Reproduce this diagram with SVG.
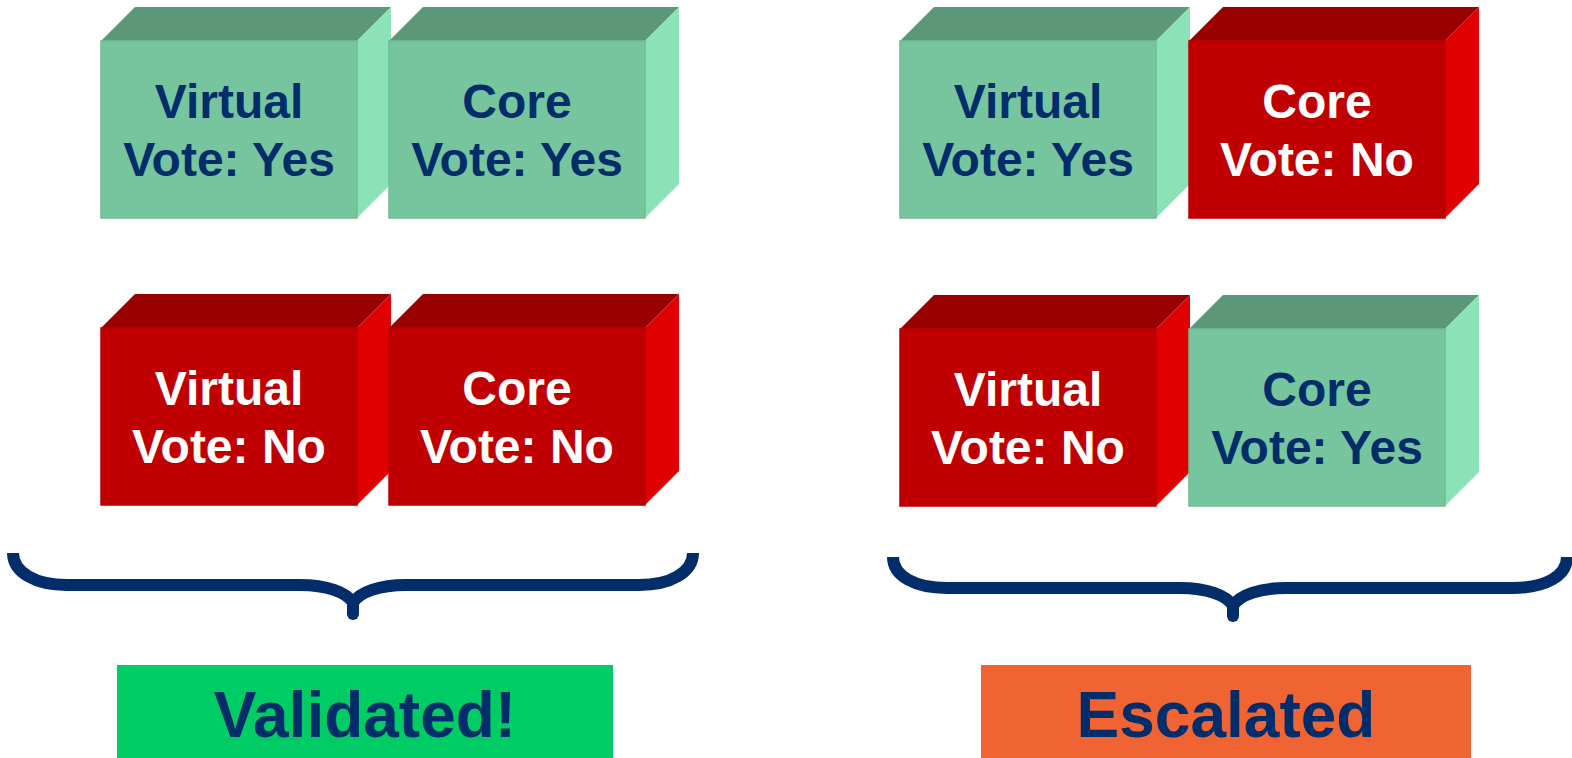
<svg xmlns="http://www.w3.org/2000/svg" width="1572" height="758" viewBox="0 0 1572 758">
<style>
.gf{fill:#77C59E;stroke:#6DBD94;stroke-width:1.5}
.gt{fill:#5C977A}
.gr{fill:#8AE2B6}
.rf{fill:#C00000;stroke:#B80000;stroke-width:1.5}
.rt{fill:#990000}
.rr{fill:#E00000}
.t{font-family:"Liberation Sans",Arial,sans-serif;font-weight:bold;font-size:48px;text-anchor:middle}
.tn{fill:#012D6B}
.tw{fill:#FFFFFF}
.br{fill:none;stroke:#012D6B;stroke-width:12;stroke-linecap:butt}
.lb{font-family:"Liberation Sans",Arial,sans-serif;font-weight:bold;font-size:64px;text-anchor:middle;fill:#012D6B}
</style>
<rect width="1572" height="758" fill="#FFFFFF"/>

<g id="box-l1-virtual">
<polygon class="gt" points="101,41 135,7 391,7 357,41"/>
<polygon class="gr" points="357,41 391,7 391,184 357,218"/>
<rect class="gf" x="101" y="41" width="256" height="177"/>
<text class="t tn" x="229" y="118">Virtual</text>
<text class="t tn" x="229" y="176">Vote: Yes</text>
</g>
<g id="box-l1-core">
<polygon class="gt" points="389,41 423,7 679,7 645,41"/>
<polygon class="gr" points="645,41 679,7 679,184 645,218"/>
<rect class="gf" x="389" y="41" width="256" height="177"/>
<text class="t tn" x="517" y="118">Core</text>
<text class="t tn" x="517" y="176">Vote: Yes</text>
</g>
<g id="box-l2-virtual">
<polygon class="rt" points="101,328 135,294 391,294 357,328"/>
<polygon class="rr" points="357,328 391,294 391,471 357,505"/>
<rect class="rf" x="101" y="328" width="256" height="177"/>
<text class="t tw" x="229" y="405">Virtual</text>
<text class="t tw" x="229" y="463">Vote: No</text>
</g>
<g id="box-l2-core">
<polygon class="rt" points="389,328 423,294 679,294 645,328"/>
<polygon class="rr" points="645,328 679,294 679,471 645,505"/>
<rect class="rf" x="389" y="328" width="256" height="177"/>
<text class="t tw" x="517" y="405">Core</text>
<text class="t tw" x="517" y="463">Vote: No</text>
</g>

<g id="box-r1-virtual">
<polygon class="gt" points="900,41 934,7 1190,7 1156,41"/>
<polygon class="gr" points="1156,41 1190,7 1190,184 1156,218"/>
<rect class="gf" x="900" y="41" width="256" height="177"/>
<text class="t tn" x="1028" y="118">Virtual</text>
<text class="t tn" x="1028" y="176">Vote: Yes</text>
</g>
<g id="box-r1-core">
<polygon class="rt" points="1189,41 1223,7 1479,7 1445,41"/>
<polygon class="rr" points="1445,41 1479,7 1479,184 1445,218"/>
<rect class="rf" x="1189" y="41" width="256" height="177"/>
<text class="t tw" x="1317" y="118">Core</text>
<text class="t tw" x="1317" y="176">Vote: No</text>
</g>
<g id="box-r2-virtual">
<polygon class="rt" points="900,329 934,295 1190,295 1156,329"/>
<polygon class="rr" points="1156,329 1190,295 1190,472 1156,506"/>
<rect class="rf" x="900" y="329" width="256" height="177"/>
<text class="t tw" x="1028" y="406">Virtual</text>
<text class="t tw" x="1028" y="464">Vote: No</text>
</g>
<g id="box-r2-core">
<polygon class="gt" points="1189,329 1223,295 1479,295 1445,329"/>
<polygon class="gr" points="1445,329 1479,295 1479,472 1445,506"/>
<rect class="gf" x="1189" y="329" width="256" height="177"/>
<text class="t tn" x="1317" y="406">Core</text>
<text class="t tn" x="1317" y="464">Vote: Yes</text>
</g>

<g id="connectors">
<path class="br" d="M13,553 C13,572 35,585 67,585 L300,585 C326,585 347,592 353,603 L353,614"/>
<path class="br" d="M693,553 C693,572 671,585 639,585 L406,585 C380,585 359,592 353,603"/>
<circle cx="353" cy="614" r="6" fill="#012D6B"/>
<path class="br" d="M893,557 C893,576 915,588 947,588 L1180,588 C1206,588 1227,595 1233,606 L1233,616"/>
<path class="br" d="M1567,557 C1567,576 1545,588 1513,588 L1286,588 C1260,588 1239,595 1233,606"/>
<circle cx="1233" cy="616" r="6" fill="#012D6B"/>
</g>

<g id="label-validated">
<rect x="117" y="665" width="496" height="93" fill="#00CC66"/>
<text class="lb" x="365" y="737">Validated!</text>
</g>
<g id="label-escalated">
<rect x="981" y="665" width="490" height="93" fill="#F06433"/>
<text class="lb" x="1226" y="737">Escalated</text>
</g>
</svg>
